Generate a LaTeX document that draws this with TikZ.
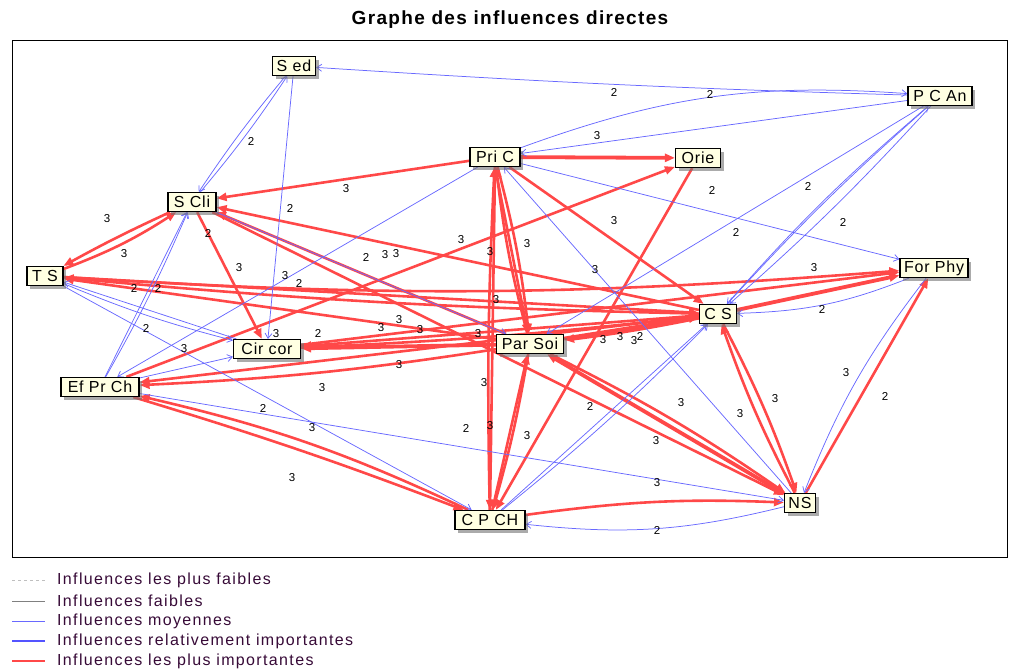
\documentclass[tikz,border=0pt]{standalone}
\usepackage{fontspec}
\setmainfont{Liberation Sans}
\newfontfamily\nodefont[LetterSpace=5]{Liberation Sans}
\newfontfamily\legfont[LetterSpace=8.5]{Liberation Sans}
\newfontfamily\titlefont[LetterSpace=7]{Liberation Sans}
\usetikzlibrary{arrows.meta,shadows}
\definecolor{nodefill}{RGB}{255,255,226}
\definecolor{redl}{RGB}{255,72,72}
\definecolor{bluel}{RGB}{105,105,255}
\definecolor{legtext}{RGB}{55,10,55}
\pgfdeclarelayer{bg}
\pgfsetlayers{bg,main}
\tikzset{
  var/.style={draw=black, line width=1.2pt, fill=nodefill, font=\nodefont\fontsize{16}{18}\selectfont,
    inner sep=1pt, minimum height=19pt,
    drop shadow={shadow xshift=3pt, shadow yshift=-3pt, fill=black!55, opacity=0.6}},
  rd/.style={draw=redl, line width=2.6pt, -{Triangle[length=10pt,width=8pt]}},
  rdk/.style={rd, line width=3.8pt},
  bl/.style={draw=bluel, line width=0.75pt, -{Straight Barb[length=5pt,width=7pt]}},
  lab/.style={font=\fontsize{11.5}{12}\selectfont, inner sep=0pt},
  legt/.style={font=\legfont\fontsize{16}{18}\selectfont, text=legtext, anchor=west, inner sep=0pt},
}
\begin{document}
\begin{tikzpicture}[x=1pt,y=-1pt]
\useasboundingbox (0,0) rectangle (1009,670);
\node (title) at (510,20) {\titlefont\bfseries\fontsize{19}{22}\selectfont Graphe des influences directes};
\draw[line width=0.9pt] (12,40) rectangle (1007,557);

% variables
\node[var, minimum width=43pt] (Sed)    at (294,66)  {S ed};
\node[var, minimum width=64pt] (PCAn)   at (940,96)  {P C An};
\node[var, minimum width=50pt] (PriC)   at (495,157) {Pri C};
\node[var, minimum width=45pt] (Orie)   at (698,158) {Orie};
\node[var, minimum width=48pt] (SCli)   at (192,202) {S Cli};
\node[var, minimum width=36pt] (TS)     at (45,276)  {T S};
\node[var, minimum width=68pt] (ForPhy) at (934,268) {For Phy};
\node[var, minimum width=37pt] (CS)     at (718,314) {C S};
\node[var, minimum width=67pt] (Circor) at (267,349) {Cir cor};
\node[var, minimum width=67pt] (ParSoi) at (530,344) {Par Soi};
\node[var, minimum width=78pt] (EfPrCh) at (100,387) {Ef Pr Ch};
\node[var, minimum width=70pt] (CPCH)   at (490,520) {C P CH};
\node[var, minimum width=31pt] (NS)     at (800,503) {NS};

\begin{pgfonlayer}{bg}
% red (most important)
\draw[rdk] (PriC) -- (Orie);
\draw[rd] (PriC) -- (SCli);
\draw[rd] (TS) to[bend right=6] (SCli);
\draw[rd] (SCli) to[bend right=2] (TS);
\draw[rd] (SCli) -- (Circor);
\draw[rd] (CS) -- (SCli);
\draw[rd] (ParSoi) -- (SCli);
\draw[rd] (SCli) -- (NS);
\draw[rd] (TS) to[bend right=4] (ForPhy);
\draw[rd] (Circor) -- (ForPhy);
\draw[rd] (CS) to[bend left=2] (TS);
\draw[rd] (TS) -- (CS);
\draw[rd] (ParSoi) -- (TS);
\draw[rd] (PriC) to[bend left=4] (ParSoi);
\draw[rd] (ParSoi) to[bend left=4] (PriC);
\draw[rd] (PriC.south) -- (ParSoi);
\draw[rd] (PriC) -- (CS);
\draw[rd] (PriC.south) -- (CPCH.north);
\draw[rd] (CPCH) to[bend left=2] (PriC);
\draw[rd] (Orie) -- (CPCH);
\draw[rd] (EfPrCh) -- (Orie);
\draw[rdk] (ParSoi) -- (CS);
\draw[rdk] (CS) to[bend left=2] (ParSoi);
\draw[rd] (CS) -- (Circor);
\draw[rd] (Circor) to[bend right=2] (CS);
\draw[rdk] (ParSoi) -- (Circor);
\draw[rd] (ParSoi) to[bend left=3] (EfPrCh);
\draw[rd] (CS) -- (EfPrCh);
\draw[rd] (CPCH) to[bend right=6] (EfPrCh);
\draw[rd] (EfPrCh) to[bend left=2] (CPCH);
\draw[rd] (CPCH) -- (ParSoi);
\draw[rd] (ParSoi) to[bend left=3] (CPCH);
\draw[rd] (CPCH) to[bend left=5] (NS);
\draw[rdk] (NS) -- (ParSoi);
\draw[rd] (ParSoi) to[bend left=4] (NS);
\draw[rd] (NS) to[bend left=4] (CS);
\draw[rd] (CS) to[bend left=4] (NS);
\draw[rd] (NS) -- (ForPhy);
\draw[rdk] (CS) -- (ForPhy);

% blue (medium)
\draw[bl] (PCAn) to[bend left=1] (Sed);
\draw[bl] (PriC) to[bend left=12] (PCAn);
\draw[bl] (PCAn) -- (PriC);
\draw[bl] (Sed) to[bend right=3] (SCli);
\draw[bl] (SCli) to[bend right=3] (Sed);
\draw[bl] (Sed) -- (Circor);
\draw[bl] (PriC) -- (EfPrCh);
\draw[bl] (PriC) -- (ForPhy);
\draw[bl] (NS) -- (PriC);
\draw[bl] (PCAn) -- (ParSoi);
\draw[bl] (PCAn) to[bend left=3] (CS);
\draw[bl] (CS) to[bend left=3] (PCAn);
\draw[bl] (PCAn) to[bend right=4] (CS);
\draw[bl] (ForPhy) to[bend left=10] (CS);
\draw[bl] (ForPhy) to[bend right=8] (NS);
\draw[bl] (NS) to[bend left=10] (CPCH);
\draw[bl] (EfPrCh) -- (NS);
\draw[bl] (Circor) -- (TS);
\draw[bl] (TS) to[bend right=4] (Circor);
\draw[bl] (EfPrCh) -- (SCli);
\draw[bl] (EfPrCh) to[bend right=3] (SCli);
\draw[bl] (CPCH) -- (CS);
\draw[bl] (CPCH) to[bend right=3] (CS);
\draw[bl] (TS) -- (CPCH);
\draw[bl] (SCli) -- (ParSoi);
\draw[bl] (EfPrCh) -- (Circor);
\end{pgfonlayer}

% edge labels
\foreach \x/\y/\t [count=\i] in {
 614/92/2, 710/94/2, 597/136/3, 251/141/2, 346/189/3, 712/190/2, 808/186/2,
 290/208/2, 107/219/3, 208/233/2, 614/221/3, 843/222/2, 736/232/2,
 461/240/3, 527/244/3, 124/254/3, 366/257/2, 385/255/3, 396/254/3, 490/252/3,
 239/268/3, 595/270/3, 814/268/3, 285/276/3, 299/283/2, 134/288/2, 158/288/2,
 496/300/3, 822/309/2, 399/320/3, 381/328/3, 420/330/3, 478/334/3, 318/333/2,
 276/334/3, 146/328/2, 603/340/3, 620/337/3, 634/341/3, 640/336/2, 184/349/3,
 399/365/3, 322/388/3, 484/383/3, 846/373/3, 885/396/2, 681/403/3, 263/408/2,
 590/406/2, 740/414/3, 775/399/3, 312/428/3, 466/428/2, 490/426/3, 527/436/3,
 656/441/3, 292/478/3, 657/483/3, 657/530/2}
 \node[lab, name=lab\i] at (\x,\y) {\t};

% legend
\draw[gray!50, dashed, line width=0.6pt] (12,580) -- (45,580);
\draw[gray, line width=0.8pt] (12,601) -- (45,601);
\draw[bluel, line width=0.8pt] (12,621) -- (45,621);
\draw[bluel!80!blue, line width=1.6pt] (12,641) -- (45,641);
\draw[redl, line width=2.4pt] (12,661) -- (45,661);
\node[legt] (leg1) at (57,580) {Influences les plus faibles};
\node[legt] (leg2) at (57,601) {Influences faibles};
\node[legt] (leg3) at (57,621) {Influences moyennes};
\node[legt] (leg4) at (57,641) {Influences relativement importantes};
\node[legt] (leg5) at (57,661) {Influences les plus importantes};
\end{tikzpicture}
\end{document}
